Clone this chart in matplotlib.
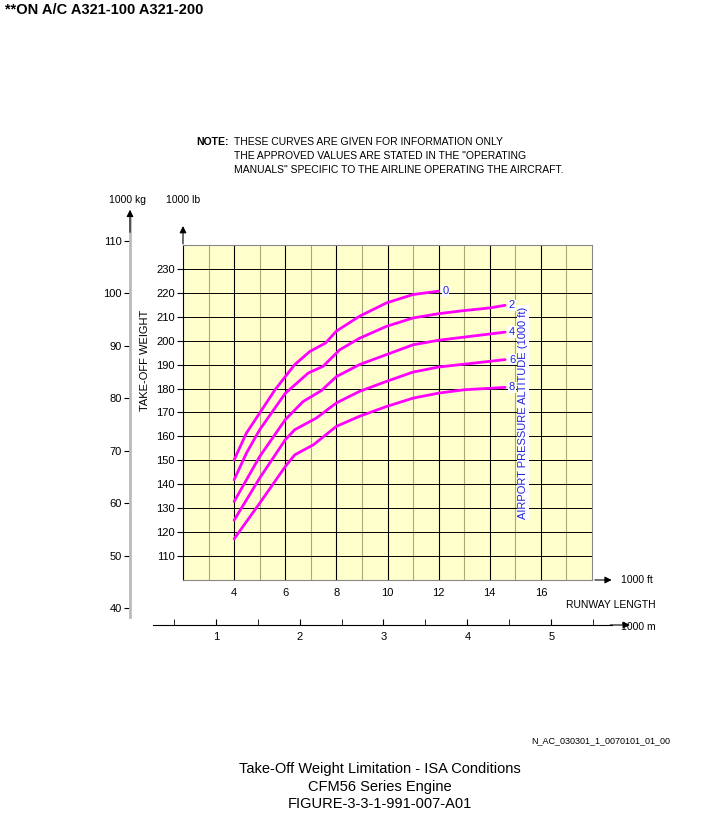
import numpy as np
import matplotlib.pyplot as plt

plt.rcParams['font.family'] = 'Liberation Sans'

# runway length (1000 ft) and take-off weight (1000 lb) per pressure altitude (1000 ft)
altitudes = ['0', '2', '4', '6', '8']
x0 = [4, 4.48, 5, 5.6, 6, 6.37, 6.96, 7.57, 8, 8.9, 9.96, 11, 12]
w0 = [150.2, 161.4, 169.8, 179.5, 185, 190, 195.5, 199, 204, 210.2, 215.8, 219.3, 220.7]
x2 = [4, 4.48, 5, 6, 6.9, 7.48, 8.13, 8.9, 9.96, 11, 12, 13, 14, 14.6]
w2 = [141.9, 153, 162.8, 178, 186.5, 189.3, 196.2, 201, 206, 209.5, 211.3, 212.6, 213.7, 214.8]
x4 = [4, 5, 6, 6.7, 7.42, 8, 8.9, 9.96, 11, 12, 13, 14.6]
w4 = [132.8, 151.6, 167, 174.6, 179.2, 185, 190, 194.2, 198.3, 200.2, 201.5, 203.6]
x6 = [4, 5, 6, 6.37, 7.22, 8, 8.9, 9.96, 11, 12, 14.6]
w6 = [125, 142.6, 158.6, 162.8, 167.7, 174, 178.8, 183, 186.9, 189, 192.1]
x8 = [4, 5, 6, 6.37, 7.1, 8, 8.9, 9.96, 11, 12, 13, 14.6]
w8 = [117.2, 132.1, 147.4, 152.3, 156.5, 164.2, 168.4, 172.5, 176, 178.1, 179.5, 180.5]
curves = [(x0, w0), (x2, w2), (x4, w4), (x6, w6), (x8, w8)]

lb_ticks = list(range(110, 231, 10))
kg_ticks = list(range(40, 111, 10))
ft_ticks = list(range(4, 17, 2))
m_ticks = [1, 2, 3, 4, 5]

W, H = 710, 817
fig = plt.figure(figsize=(7.1, 8.17), dpi=100)

def box(l, t, r, b):
    return [l / W, 1 - b / H, (r - l) / W, (b - t) / H]

ax = fig.add_axes(box(183, 245, 592, 580))
ax.set_xlim(2, 18)
ax.set_ylim(100, 240)
ax.set_facecolor('#ffffcc')
for v in range(3, 18):
    ax.axvline(v, color='black' if v % 2 == 0 else '#a8a87a', lw=0.8, zorder=1)
for h in range(110, 240, 10):
    ax.axhline(h, color='black', lw=0.7, zorder=1)
for s in ['top', 'right', 'bottom']:
    ax.spines[s].set_color('#888888')
ax.set_xticks(ft_ticks)
ax.set_yticks(lb_ticks)
ax.tick_params(axis='x', length=0, labelsize=8, pad=6)
ax.tick_params(axis='y', length=4, labelsize=8, pad=2)
ax.annotate('', xy=(0, 1.065), xytext=(0, 0.995), xycoords='axes fraction',
            arrowprops=dict(arrowstyle='-|>', color='black', lw=0.8, mutation_scale=10))
ax.annotate('', xy=(1.055, 0), xytext=(1.0, 0), xycoords='axes fraction',
            arrowprops=dict(arrowstyle='-|>', color='black', lw=0.8, mutation_scale=10))

for lab, (xs, ws) in zip(altitudes, curves):
    ax.plot(xs, ws, color='#ff00ff', lw=2, zorder=3, solid_capstyle='round')
    ax.text(xs[-1] + 0.15, ws[-1], lab, color='#2222dd', fontsize=8, va='center', ha='left',
            bbox=dict(facecolor='white', edgecolor='none', pad=0.5), zorder=4)

ax.text(15.3, 170, 'AIRPORT PRESSURE ALTITUDE (1000 ft)', rotation=90, color='#2222dd',
        fontsize=8, ha='center', va='center',
        bbox=dict(facecolor='white', edgecolor='none', pad=1), zorder=4)

# kg axis
axk = fig.add_axes(box(130, 215, 131, 617))
axk.set_ylim(38.28, 114.96)
axk.set_xticks([])
axk.set_yticks(kg_ticks)
axk.patch.set_visible(False)
for s in ['top', 'right', 'bottom']:
    axk.spines[s].set_visible(False)
axk.spines['left'].set_color('#bbbbbb')
axk.spines['left'].set_linewidth(2)
axk.tick_params(axis='y', length=4, labelsize=8, pad=2)
axk.annotate('', xy=(0, 1.02), xytext=(0, 0.95), xycoords='axes fraction',
             arrowprops=dict(arrowstyle='-|>', color='black', lw=0.8, mutation_scale=10))

# metre axis
axm = fig.add_axes(box(153, 600, 612, 625))
axm.set_xlim(0.252, 5.725)
axm.set_yticks([])
axm.patch.set_visible(False)
for s in ['top', 'right', 'left']:
    axm.spines[s].set_visible(False)
axm.set_xticks(m_ticks)
axm.set_xticks(np.arange(0.5, 5.6, 1.0), minor=True)
axm.tick_params(axis='x', which='both', direction='in', length=4, labelsize=8, pad=5)
axm.annotate('', xy=(1.045, 0), xytext=(0.99, 0), xycoords='axes fraction',
             arrowprops=dict(arrowstyle='-|>', color='black', lw=0.8, mutation_scale=10))

def t(x, y, s, **kw):
    fig.text(x / W, 1 - y / H, s, **kw)

t(5, 10, '**ON A/C A321-100 A321-200', fontsize=10.5, fontweight='bold', va='center')
t(196, 142, 'NOTE:', fontsize=7.5, fontweight='bold', va='center')
t(234, 142, 'THESE CURVES ARE GIVEN FOR INFORMATION ONLY', fontsize=7.5, va='center')
t(234, 156, 'THE APPROVED VALUES ARE STATED IN THE "OPERATING', fontsize=7.5, va='center')
t(234, 170, 'MANUALS" SPECIFIC TO THE AIRLINE OPERATING THE AIRCRAFT.', fontsize=7.5, va='center')
t(127, 200, '1000 kg', fontsize=7.5, ha='center', va='center')
t(183, 200, '1000 lb', fontsize=7.5, ha='center', va='center')
t(145, 360, 'TAKE-OFF WEIGHT', fontsize=8, rotation=90, ha='center', va='center')
t(621, 580, '1000 ft', fontsize=7.5, va='center')
t(566, 605, 'RUNWAY LENGTH', fontsize=7.5, va='center')
t(621, 627, '1000 m', fontsize=7.5, va='center')
t(670, 741, 'N_AC_030301_1_0070101_01_00', fontsize=6.5, ha='right', va='center')
t(380, 769, 'Take-Off Weight Limitation - ISA Conditions', fontsize=10.5, ha='center', va='center')
t(380, 787, 'CFM56 Series Engine', fontsize=10.5, ha='center', va='center')
t(380, 804, 'FIGURE-3-3-1-991-007-A01', fontsize=10.5, ha='center', va='center')

fig.savefig('out.png', dpi=100)
